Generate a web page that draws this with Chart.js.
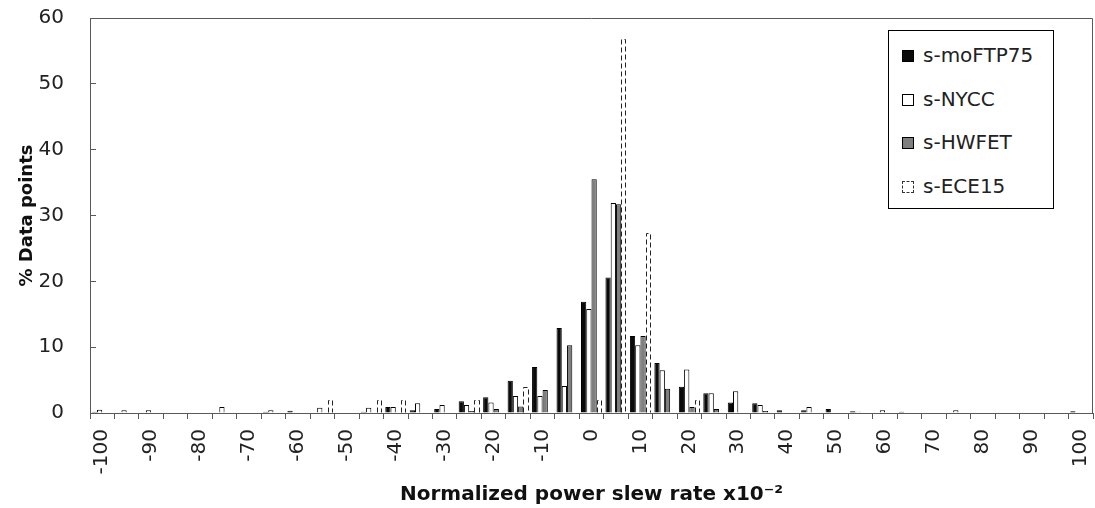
<!DOCTYPE html>
<html>
<head>
<meta charset="utf-8">
<script src="https://cdn.jsdelivr.net/npm/chart.js@4.4.1/dist/chart.umd.min.js"></script>
<style>
  html, body { margin: 0; padding: 0; background: #fff; }
  #wrap { position: relative; width: 1095px; height: 508px; }
  #legend { position: absolute; left: 888px; top: 30px; width: 166px; height: 179px; box-sizing: border-box;
            border: 1px solid #000; background: #fff; font: 20px "DejaVu Sans"; color: #222; }
  .item { position: absolute; left: 13px; height: 22px; line-height: 22px; white-space: nowrap; }
  .swatch { display: inline-block; width: 10px; height: 10px; border: 1px solid #000; margin-right: 9px; vertical-align: 0px; }
</style>
</head>
<body>
<div id="wrap">
  <canvas id="chart" width="1095" height="508"></canvas>
  <div id="legend"></div>
</div>
<script>
// normalized power slew rate bins (x10^-2)
var slewRates = [-100, -95, -90, -85, -80, -75, -70, -65, -60, -55, -50, -45, -40, -35, -30, -25, -20, -15, -10, -5,
                 0, 5, 10, 15, 20, 25, 30, 35, 40, 45, 50, 55, 60, 65, 70, 75, 80, 85, 90, 95, 100];

// % data points per cycle
var moFTP75 = [0.2, 0, 0, 0, 0, 0, 0, 0.2, 0.35, 0, 0, 0.2, 0.9, 0.4, 0.6, 1.8, 2.4, 4.9, 7.0, 12.9,
               16.9, 20.6, 11.7, 7.6, 4.0, 3.0, 1.6, 1.5, 0.4, 0.4, 0.6, 0.25, 0, 0.2, 0, 0, 0, 0, 0, 0, 0.25];
var nycc    = [0.5, 0.4, 0.4, 0, 0, 0.9, 0, 0.4, 0, 0.8, 0, 0.8, 0.9, 1.5, 1.2, 1.2, 1.6, 2.6, 2.6, 4.1,
               15.8, 31.9, 10.3, 6.5, 6.6, 3.0, 3.3, 1.2, 0, 0.9, 0, 0.2, 0.4, 0, 0, 0.4, 0, 0, 0, 0, 0];
var hwfet   = [0, 0, 0, 0, 0, 0, 0, 0, 0, 0, 0, 0, 0, 0, 0, 0.3, 0.6, 1.0, 3.5, 10.3,
               35.5, 31.7, 11.7, 3.7, 0.9, 0.6, 0, 0.3, 0, 0, 0, 0, 0, 0, 0, 0, 0, 0, 0, 0, 0];
var ece15   = [0, 0, 0, 0, 0, 0, 0, 0, 0, 2.0, 0, 2.0, 2.0, 0, 0, 2.0, 0, 3.9, 0, 0,
               2.0, 56.8, 27.4, 0, 2.0, 0, 0, 0, 0, 0, 0, 0, 0, 0, 0, 0, 0, 0, 0, 0, 0];

var yTicks = [0, 10, 20, 30, 40, 50, 60];

Chart.defaults.font.family = '"DejaVu Sans", sans-serif';
Chart.defaults.color = '#222';

// ECE15 bars are outlined with a dashed line, which the bar element cannot do itself
var dashedBars = {
    id: 'dashedBars',
    afterDatasetsDraw: function (chart) {
        var ctx = chart.ctx;
        chart.data.datasets.forEach(function (ds, i) {
            if (!ds.dashed) return;
            var meta = chart.getDatasetMeta(i);
            ctx.save();
            ctx.strokeStyle = '#222';
            ctx.lineWidth = 1;
            ctx.setLineDash([5, 3]);
            meta.data.forEach(function (bar, j) {
                if (!ds.data[j]) return;
                var p = bar.getProps(['x', 'y', 'base', 'width'], true);
                var l = Math.round(p.x - p.width / 2) + 0.5;
                var r = Math.round(p.x + p.width / 2) - 0.5;
                var t = Math.round(p.y) + 0.5;
                ctx.beginPath();
                ctx.moveTo(l, p.base);
                ctx.lineTo(l, t);
                ctx.lineTo(r, t);
                ctx.lineTo(r, p.base);
                ctx.stroke();
            });
            ctx.restore();
        });
    }
};

// top and right edge of the plot area
var plotFrame = {
    id: 'plotFrame',
    afterDraw: function (chart) {
        var a = chart.chartArea, ctx = chart.ctx;
        ctx.save();
        ctx.strokeStyle = '#595959';
        ctx.lineWidth = 1;
        ctx.beginPath();
        ctx.moveTo(Math.round(a.left) + 0.5, Math.round(a.top) + 0.5);
        ctx.lineTo(Math.round(a.right) - 0.5, Math.round(a.top) + 0.5);
        ctx.lineTo(Math.round(a.right) - 0.5, Math.round(a.bottom));
        ctx.stroke();
        ctx.restore();
    }
};

var chart = new Chart(document.getElementById('chart'), {
    type: 'bar',
    data: {
        labels: slewRates.map(String),
        datasets: [
            { label: 's-moFTP75', data: moFTP75, backgroundColor: '#0a0a0a', borderColor: '#000', borderWidth: 1 },
            { label: 's-NYCC', data: nycc, backgroundColor: '#fff', borderColor: '#000', borderWidth: 1 },
            { label: 's-HWFET', data: hwfet, backgroundColor: '#7f7f7f', borderColor: '#000', borderWidth: 1 },
            { label: 's-ECE15', data: ece15, backgroundColor: '#fff', borderColor: '#222', borderWidth: 0, dashed: true }
        ]
    },
    options: {
        responsive: false,
        animation: false,
        devicePixelRatio: 1,
        layout: { padding: { left: 0, right: 2, top: 18, bottom: 0 } },
        datasets: { bar: { categoryPercentage: 0.86, barPercentage: 1.0 } },
        plugins: { legend: { display: false }, tooltip: { enabled: false } },
        scales: {
            x: {
                grid: { drawOnChartArea: false, drawTicks: true, tickLength: 6, color: '#595959' },
                border: { color: '#595959', width: 1 },
                ticks: {
                    autoSkip: false, maxRotation: 90, minRotation: 90, padding: 10,
                    font: { size: 20 }, color: '#222',
                    callback: function (v, i) { return i % 2 === 0 ? this.getLabelForValue(v) : ''; }
                },
                title: {
                    display: true, text: 'Normalized power slew rate x10\u207B\u00B2', color: '#111',
                    font: { size: 20, weight: 'bold' }, padding: { top: 0, bottom: 1 }
                },
                afterFit: function (s) { s.height = 95; s.paddingLeft = 0; s.paddingRight = 0; }
            },
            y: {
                min: 0, max: 60,
                afterBuildTicks: function (s) { s.ticks = yTicks.map(function (v) { return { value: v }; }); },
                grid: { drawOnChartArea: false, drawTicks: true, tickLength: -6, color: '#595959' },
                border: { color: '#595959', width: 1 },
                ticks: { font: { size: 20 }, color: '#222', padding: 32 },
                title: {
                    display: true, text: '% Data points', color: '#111',
                    font: { size: 18, weight: 'bold' }, padding: { top: 17, bottom: 0 }
                },
                afterFit: function (s) { s.width = 90; s.paddingTop = 0; s.paddingBottom = 0; }
            }
        }
    },
    plugins: [dashedBars, plotFrame]
});

// legend box in the upper right, built from the datasets
var legend = document.getElementById('legend');
chart.data.datasets.forEach(function (ds, i) {
    var item = document.createElement('div');
    item.className = 'item';
    item.style.top = (13 + i * 43.5) + 'px';
    var sw = document.createElement('span');
    sw.className = 'swatch';
    sw.style.background = ds.backgroundColor;
    if (ds.dashed) { sw.style.borderStyle = 'dashed'; sw.style.borderColor = '#333'; }
    item.appendChild(sw);
    item.appendChild(document.createTextNode(ds.label));
    legend.appendChild(item);
});
</script>
</body>
</html>
